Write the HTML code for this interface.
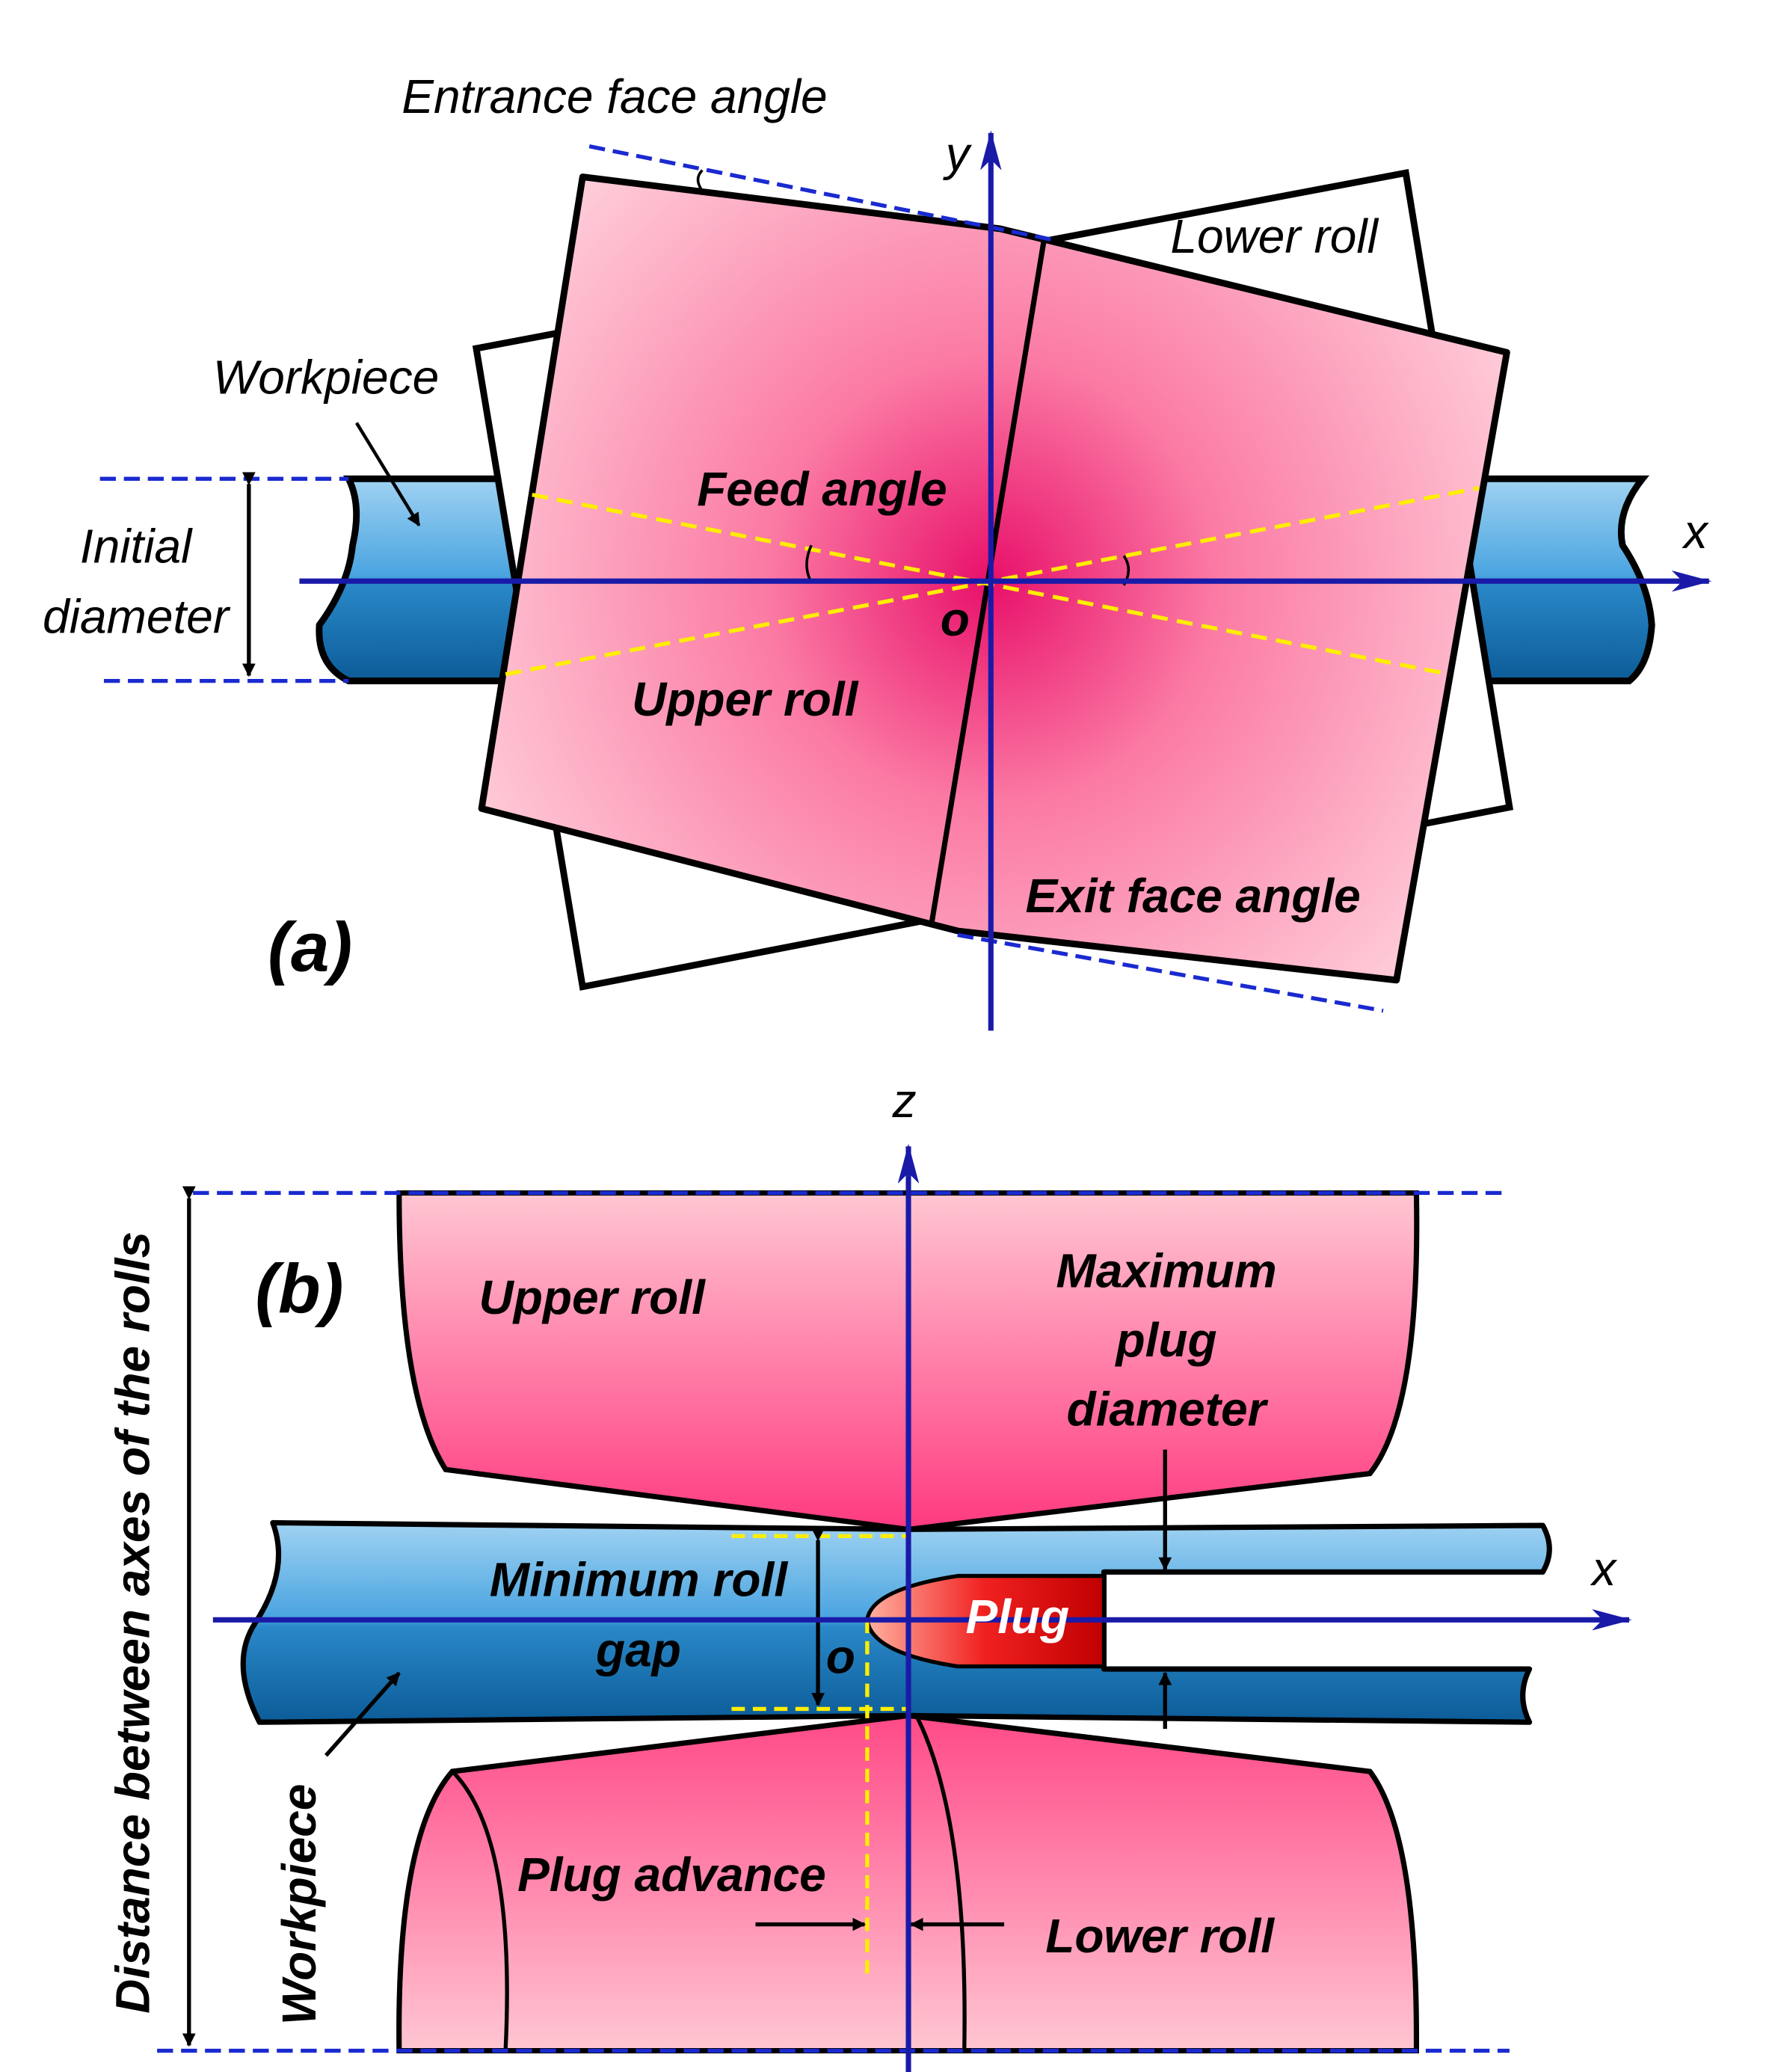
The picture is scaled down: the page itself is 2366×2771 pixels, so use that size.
<!DOCTYPE html>
<html><head><meta charset="utf-8"><style>html,body{margin:0;padding:0;background:#fff}svg{display:block}</style></head><body>
<svg width="2366" height="2771" viewBox="0 0 1330 1558" xmlns="http://www.w3.org/2000/svg" font-family="Liberation Sans, sans-serif" font-style="italic">
<defs>
<radialGradient id="pk" cx="745" cy="437" r="480" gradientUnits="userSpaceOnUse">
<stop offset="0" stop-color="#e8106a"/><stop offset="0.35" stop-color="#fb7aa4"/><stop offset="1" stop-color="#ffdde3"/></radialGradient>
<linearGradient id="bl" x1="0" y1="0" x2="0" y2="1">
<stop offset="0" stop-color="#9fd2f2"/><stop offset="0.48" stop-color="#4aa4e0"/><stop offset="0.52" stop-color="#2a88c8"/><stop offset="1" stop-color="#0c5c98"/></linearGradient>
<linearGradient id="ur" x1="0" y1="0" x2="0" y2="1">
<stop offset="0" stop-color="#ffc6d2"/><stop offset="1" stop-color="#ff3a80"/></linearGradient>
<linearGradient id="lr" x1="0" y1="0" x2="0" y2="1">
<stop offset="0" stop-color="#ff4a88"/><stop offset="1" stop-color="#ffc6d2"/></linearGradient>
<linearGradient id="rd" x1="0" y1="0" x2="1" y2="0">
<stop offset="0" stop-color="#ffb0a0"/><stop offset="0.5" stop-color="#f02020"/><stop offset="1" stop-color="#c00000"/></linearGradient>
<marker id="ab" markerWidth="10" markerHeight="10" refX="9" refY="5" orient="auto" markerUnits="userSpaceOnUse"><path d="M0,0 L10,5 L0,10 Z" fill="#000"/></marker>
<marker id="an" markerWidth="30" markerHeight="16" refX="28" refY="8" orient="auto" markerUnits="userSpaceOnUse"><path d="M0,0 L30,8 L0,16 L8,8 Z" fill="#1a1aa8"/></marker>
</defs>

<!-- (a) -->
<!-- pipes -->
<path d="M262,360 L420,360 L420,512 L262,512 Q238,500 240,470 Q262,440 265,410 Q272,380 262,360 Z" fill="url(#bl)" stroke="#000" stroke-width="5"/>
<path d="M1060,360 L1235,360 Q1215,385 1220,410 Q1240,440 1242,470 Q1240,500 1225,512 L1060,512 Z" fill="url(#bl)" stroke="#000" stroke-width="5"/>
<polygon points="358,262 1057,130 1135,607 438,742" fill="#fff" stroke="#000" stroke-width="5"/>
<polygon points="438,133 752,172 785,180 1133,265 1050,737 720,700 362,608" fill="url(#pk)" stroke="#000" stroke-width="5" stroke-linejoin="round"/>
<line x1="785" y1="180" x2="700" y2="697" stroke="#000" stroke-width="4"/>
<!-- dashed -->
<g stroke="#ffee00" stroke-width="3" stroke-dasharray="12,7">
<line x1="400" y1="372" x2="1090" y2="507"/><line x1="380" y1="507" x2="1112" y2="367"/></g>
<g stroke="#1a2ad0" stroke-width="3" stroke-dasharray="12,6" fill="none">
<line x1="443" y1="110" x2="790" y2="180"/><line x1="720" y1="703" x2="1040" y2="760"/>
<line x1="75" y1="360" x2="262" y2="360"/><line x1="78" y1="512" x2="262" y2="512"/></g>
<path d="M610,410 Q603,425 610,438 M845,418 Q852,428 845,440 M528,128 Q522,134 527,142" fill="none" stroke="#000" stroke-width="2"/>
<line x1="187" y1="364" x2="187" y2="508" stroke="#000" stroke-width="3" marker-start="url(#ab)" marker-end="url(#ab)"/>
<line x1="225" y1="437" x2="1285" y2="437" stroke="#1a1aa8" stroke-width="4" marker-end="url(#an)"/>
<line x1="745" y1="775" x2="745" y2="100" stroke="#1a1aa8" stroke-width="4" marker-end="url(#an)"/>
<line x1="268" y1="318" x2="315" y2="395" stroke="#000" stroke-width="2.5" marker-end="url(#ab)"/>
<g font-size="36" fill="#000" text-anchor="middle">
<text x="462" y="85">Entrance face angle</text>
<text x="720" y="128">y</text>
<text x="958" y="190">Lower roll</text>
<text x="245" y="296">Workpiece</text>
<text x="102" y="423">Initial</text>
<text x="102" y="476">diameter</text>
<text x="618" y="380" font-weight="bold">Feed angle</text>
<text x="1275" y="412">x</text>
<text x="718" y="478" font-weight="bold">o</text>
<text x="560" y="538" font-weight="bold">Upper roll</text>
<text x="897" y="686" font-weight="bold">Exit face angle</text>
<text x="233" y="730" font-size="52" font-weight="bold">(a)</text>
</g>

<!-- (b) -->
<path d="M300,897 L1065,897 Q1068,1060 1030,1108 L683,1150 L335,1105 Q300,1050 300,897 Z" fill="url(#ur)" stroke="#000" stroke-width="4"/>
<path d="M300,1542 Q298,1380 340,1332 L683,1290 L1030,1332 Q1066,1380 1065,1542 Z" fill="url(#lr)" stroke="#000" stroke-width="4"/>
<path d="M340,1332 Q388,1380 380,1542 M690,1292 Q728,1370 725,1542" fill="none" stroke="#000" stroke-width="3"/>
<path d="M205,1145 L683,1150 L1160,1147 Q1170,1165 1160,1182 L830,1182 L830,1255 L1150,1255 Q1140,1275 1150,1295 L683,1290 L195,1295 Q172,1250 192,1220 Q218,1180 205,1145 Z" fill="url(#bl)" stroke="#000" stroke-width="4" stroke-linejoin="round"/>
<path d="M830,1185 L720,1185 Q655,1195 652,1218 Q655,1243 720,1253 L830,1253 Z" fill="url(#rd)" stroke="#000" stroke-width="3"/>
<g stroke="#1a2ad0" stroke-width="3" stroke-dasharray="12,6">
<line x1="145" y1="897" x2="1135" y2="897"/><line x1="118" y1="1542" x2="1135" y2="1542"/></g>
<g stroke="#ffee00" stroke-width="3" stroke-dasharray="10,6">
<line x1="550" y1="1155" x2="683" y2="1155"/><line x1="550" y1="1285" x2="683" y2="1285"/><line x1="652" y1="1218" x2="652" y2="1490"/></g>
<line x1="142" y1="901" x2="142" y2="1538" stroke="#000" stroke-width="3" marker-start="url(#ab)" marker-end="url(#ab)"/>
<line x1="615" y1="1158" x2="615" y2="1282" stroke="#000" stroke-width="3" marker-start="url(#ab)" marker-end="url(#ab)"/>
<line x1="876" y1="1090" x2="876" y2="1180" stroke="#000" stroke-width="3" marker-end="url(#ab)"/>
<line x1="876" y1="1300" x2="876" y2="1258" stroke="#000" stroke-width="3" marker-end="url(#ab)"/>
<line x1="568" y1="1447" x2="650" y2="1447" stroke="#000" stroke-width="3" marker-end="url(#ab)"/>
<line x1="755" y1="1447" x2="685" y2="1447" stroke="#000" stroke-width="3" marker-end="url(#ab)"/>
<line x1="245" y1="1320" x2="300" y2="1258" stroke="#000" stroke-width="3" marker-end="url(#ab)"/>
<line x1="160" y1="1218" x2="1225" y2="1218" stroke="#1a1aa8" stroke-width="4" marker-end="url(#an)"/>
<line x1="683" y1="1558" x2="683" y2="862" stroke="#1a1aa8" stroke-width="4" marker-end="url(#an)"/>
<g font-size="36" fill="#000" text-anchor="middle" font-weight="bold">
<text x="680" y="840" font-weight="normal">z</text>
<text x="1206" y="1192" font-weight="normal">x</text>
<text x="225" y="987" font-size="52">(b)</text>
<text x="445" y="988">Upper roll</text>
<text x="877" y="968">Maximum</text>
<text x="877" y="1020">plug</text>
<text x="877" y="1072">diameter</text>
<text x="480" y="1200">Minimum roll</text>
<text x="480" y="1253">gap</text>
<text x="632" y="1258">o</text>
<text x="765" y="1228" fill="#fff">Plug</text>
<text x="505" y="1422">Plug advance</text>
<text x="872" y="1468">Lower roll</text>
<text transform="translate(112,1220) rotate(-90)">Distance between axes of the rolls</text>
<text transform="translate(237,1432) rotate(-90)">Workpiece</text>
</g>
</svg>
</body></html>
